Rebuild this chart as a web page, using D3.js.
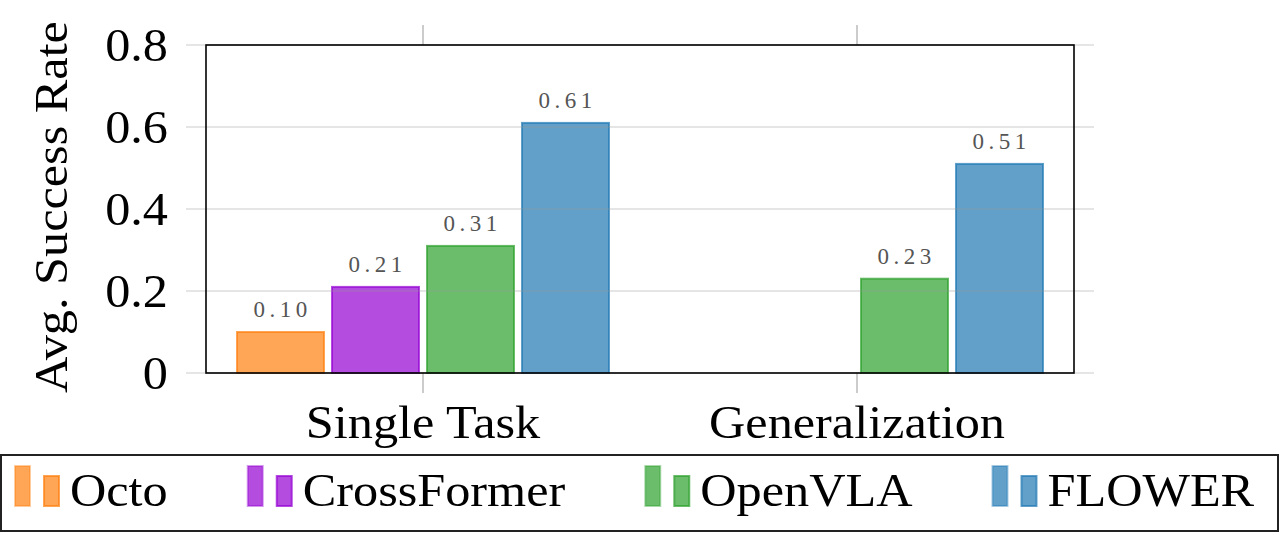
<!DOCTYPE html>
<html>
<head>
<meta charset="utf-8">
<script src="https://cdn.jsdelivr.net/npm/d3@7"></script>
<style>
  html, body { margin: 0; padding: 0; background: #fff; }
  svg { display: block; }
  text { font-family: "Liberation Serif", "Times New Roman", serif; }
</style>
</head>
<body>
<svg id="chart" width="1280" height="535"></svg>
<script>
// ---- data ----
const categories = ["Single Task", "Generalization"];
const seriesNames = ["Octo", "CrossFormer", "OpenVLA", "FLOWER"];
const octo        = [0.10, null];
const crossFormer = [0.21, null];
const openVLA     = [0.31, 0.23];
const flower      = [0.61, 0.51];
const yTicks = [0, 0.2, 0.4, 0.6, 0.8];
const yTickLabels = ["0", "0.2", "0.4", "0.6", "0.8"];
const valueLabels = [["0.10", null], ["0.21", null], ["0.31", "0.23"], ["0.61", "0.51"]];

const seriesValues = [octo, crossFormer, openVLA, flower];
const baseColors = ["#ff7f0e", "#9400d3", "#2ca02c", "#1f77b4"];

// ---- layout ----
const svg = d3.select("#chart");
const box = { left: 206, right: 1074, top: 45, bottom: 373 };
const FS = 47, SX = 1.07;

const xc = d3.scalePoint().domain(categories).range([423, 857]);
const y = d3.scaleLinear().domain([0, 0.8]).range([box.bottom, box.top]);
const barStep = 95, barW = 87;
const xs = d3.scaleBand().domain(seriesNames).range([-2 * barStep, 2 * barStep]).paddingInner(0);

function sText(parent, tx, ty, str, opts = {}) {
  const g = parent.append("g").attr("transform", `translate(${tx},${ty})${opts.rotate ? ` rotate(${opts.rotate})` : ""}`);
  const t = g.append("text")
    .attr("transform", `scale(${opts.sx || SX},1)`)
    .attr("text-anchor", opts.anchor || "middle")
    .attr("font-size", opts.size || FS)
    .attr("fill", opts.fill || "#000")
    .text(str);
  return t;
}

// x ticks
categories.forEach(c => {
  svg.append("line").attr("x1", xc(c)).attr("x2", xc(c)).attr("y1", box.top - 20).attr("y2", box.top)
    .attr("stroke", "#aaa").attr("stroke-width", 1.2);
  svg.append("line").attr("x1", xc(c)).attr("x2", xc(c)).attr("y1", box.bottom).attr("y2", box.bottom + 20)
    .attr("stroke", "#aaa").attr("stroke-width", 1.2);
});

// bars
seriesNames.forEach((s, si) => {
  const vals = seriesValues[si];
  categories.forEach((c, ci) => {
    const v = vals[ci];
    if (v == null) return;
    const cx = xc(c) + xs(s) + xs.bandwidth() / 2;
    svg.append("rect")
      .attr("x", cx - barW / 2).attr("width", barW)
      .attr("y", y(v)).attr("height", y(0) - y(v))
      .attr("fill", baseColors[si]).attr("fill-opacity", 0.7)
      .attr("stroke", baseColors[si]).attr("stroke-opacity", 0.7).attr("stroke-width", 2);
    const lbl = valueLabels[si][ci];
    svg.append("text")
      .attr("x", cx + 2).attr("y", y(v) - 15)
      .attr("text-anchor", "middle")
      .attr("font-size", 23).attr("letter-spacing", 4.5)
      .attr("fill", "#555")
      .text(lbl);
  });
});

// gridlines (drawn over bars, like the reference)
svg.append("g").selectAll("line").data(yTicks).join("line")
  .attr("x1", box.left - 20).attr("x2", box.right + 20)
  .attr("y1", d => y(d)).attr("y2", d => y(d))
  .attr("stroke", "#999").attr("stroke-opacity", 0.5).attr("stroke-width", 1.2);

// box
svg.append("rect").attr("x", box.left).attr("y", box.top)
  .attr("width", box.right - box.left).attr("height", box.bottom - box.top)
  .attr("fill", "none").attr("stroke", "#000").attr("stroke-width", 1.6);

// y tick labels
yTicks.forEach((t, i) => {
  sText(svg, 168, y(t) + 16, yTickLabels[i], { anchor: "end" });
});
// y title
sText(svg, 67, 207, "Avg. Success Rate", { rotate: -90 });

// category labels
categories.forEach(c => sText(svg, xc(c), 438, c));

// legend
svg.append("rect").attr("x", 1).attr("y", 455).attr("width", 1277).attr("height", 76)
  .attr("fill", "#fff").attr("stroke", "#222").attr("stroke-width", 2);
let lx = 15;
seriesNames.forEach((s, si) => {
  const g = svg.append("g");
  g.append("rect").attr("x", lx).attr("y", 466).attr("width", 15).attr("height", 40)
    .attr("fill", baseColors[si]).attr("fill-opacity", 0.7)
    .attr("stroke", baseColors[si]).attr("stroke-opacity", 0.4).attr("stroke-width", 2);
  g.append("rect").attr("x", lx + 29).attr("y", 476).attr("width", 15).attr("height", 30)
    .attr("fill", baseColors[si]).attr("fill-opacity", 0.7)
    .attr("stroke", baseColors[si]).attr("stroke-opacity", 0.7).attr("stroke-width", 2);
  const t = sText(svg, lx + 55, 506, s, { anchor: "start" });
  const w = t.node().getComputedTextLength() * SX;
  lx = lx + 55 + w + 80;
});
</script>
</body>
</html>
